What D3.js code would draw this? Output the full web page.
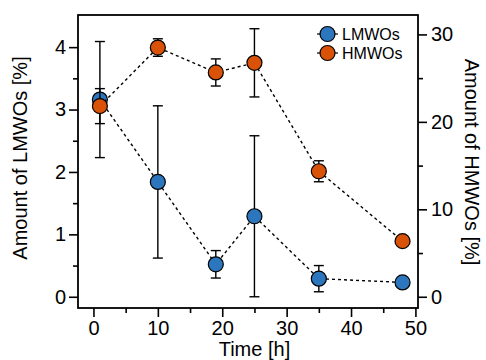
<!DOCTYPE html>
<html><head><meta charset="utf-8">
<script src="https://cdn.jsdelivr.net/npm/d3@7"></script>
<style>body{margin:0;background:#fff}svg{display:block;font-family:"Liberation Sans",Arial,sans-serif}</style>
</head><body>
<script>
const time = [1, 10, 19, 25, 35, 48];
const lmwo = [3.16, 1.84, 0.52, 1.29, 0.29, 0.23];
const lmwoErr = [0.93, 1.22, 0.22, 1.29, 0.21, 0];
const hmwo = [21.8, 28.5, 25.65, 26.75, 14.35, 6.36];
const hmwoErr = [2.0, 1.0, 1.55, 3.9, 1.2, 0];
const xTicks = [0, 10, 20, 30, 40, 50];
const yLeftTicks = [0, 1, 2, 3, 4];
const yRightTicks = [0, 10, 20, 30];
const seriesNames = ["LMWOs", "HMWOs"];
const colors = ["#2b76bd", "#d95208"];

const W = 486, H = 360;
const L = 78, R = 418, T = 15, B = 308;
const svg = d3.select("body").append("svg").attr("width", W).attr("height", H);

const x = d3.scaleLinear().domain([-2.4, 50.4]).range([L, R]);
const yL = d3.scaleLinear().domain([-0.18, 4.515]).range([B, T]);
const yR = d3.scaleLinear().domain([-1.285, 32.22]).range([B, T]);

function styleAxis(g) {
  g.selectAll("path.domain").remove();
  g.selectAll("line").attr("stroke", "#000").attr("stroke-width", 1.6);
  g.selectAll("text").attr("font-size", 20).attr("fill", "#000")
   .attr("font-family", '"Liberation Sans",Arial,sans-serif');
}

// minor ticks
svg.append("g").attr("transform", `translate(0,${B})`)
  .call(d3.axisBottom(x).tickValues([5,15,25,35,45]).tickSize(5).tickFormat(""))
  .call(styleAxis);
svg.append("g").attr("transform", `translate(${L},0)`)
  .call(d3.axisLeft(yL).tickValues([0.5,1.5,2.5,3.5]).tickSize(5).tickFormat(""))
  .call(styleAxis);
svg.append("g").attr("transform", `translate(${R},0)`)
  .call(d3.axisRight(yR).tickValues([5,15,25]).tickSize(5).tickFormat(""))
  .call(styleAxis);

// major ticks
svg.append("g").attr("transform", `translate(0,${B})`)
  .call(d3.axisBottom(x).tickValues(xTicks).tickSize(9).tickPadding(4).tickFormat(d3.format("d")))
  .call(styleAxis);
svg.append("g").attr("transform", `translate(${L},0)`)
  .call(d3.axisLeft(yL).tickValues(yLeftTicks).tickSize(9).tickPadding(3).tickFormat(d3.format("d")))
  .call(styleAxis);
svg.append("g").attr("transform", `translate(${R},0)`)
  .call(d3.axisRight(yR).tickValues(yRightTicks).tickSize(9).tickPadding(4).tickFormat(d3.format("d")))
  .call(styleAxis);

// frame
svg.append("rect").attr("x", L).attr("y", T).attr("width", R - L).attr("height", B - T)
  .attr("fill", "none").attr("stroke", "#000").attr("stroke-width", 1.8);

// titles
svg.append("text").attr("x", (x(0)+x(50))/2).attr("y", 356).attr("text-anchor", "middle")
  .attr("font-size", 20).text("Time [h]");
svg.append("text").attr("transform", `translate(27,158) rotate(-90)`).attr("text-anchor", "middle")
  .attr("font-size", 20).text("Amount of LMWOs [%]");
svg.append("text").attr("transform", `translate(465,162) rotate(90)`).attr("text-anchor", "middle")
  .attr("font-size", 20).text("Amount of HMWOs [%]");

const series = [
  {vals: lmwo, err: lmwoErr, y: yL, color: colors[0]},
  {vals: hmwo, err: hmwoErr, y: yR, color: colors[1]}
];

series.forEach(s => {
  const g = svg.append("g");
  const pts = time.map((t, i) => ({t, v: s.vals[i], e: s.err[i]}));
  pts.filter(d => d.e > 0).forEach(d => {
    const xc = x(d.t), y1 = s.y(d.v + d.e), y2 = s.y(d.v - d.e);
    g.append("line").attr("x1", xc).attr("x2", xc).attr("y1", y1).attr("y2", y2)
      .attr("stroke", "#000").attr("stroke-width", 1.4);
    [y1, y2].forEach(yy => g.append("line").attr("x1", xc - 5).attr("x2", xc + 5)
      .attr("y1", yy).attr("y2", yy).attr("stroke", "#000").attr("stroke-width", 1.4));
  });
  g.append("path").datum(pts)
    .attr("d", d3.line().x(d => x(d.t)).y(d => s.y(d.v)))
    .attr("fill", "none").attr("stroke", "#000").attr("stroke-width", 1.4)
    .attr("stroke-dasharray", "3,3");
  s.g = g; s.pts = pts;
});
series.forEach(s => {
  s.g.selectAll("circle").data(s.pts).join("circle")
    .attr("cx", d => x(d.t)).attr("cy", d => s.y(d.v)).attr("r", 7.5)
    .attr("fill", s.color).attr("stroke", "#000").attr("stroke-width", 1.2);
});

// legend
const lg = svg.append("g");
seriesNames.forEach((name, i) => {
  const yy = 34 + i * 19;
  lg.append("line").attr("x1", 317).attr("x2", 338).attr("y1", yy).attr("y2", yy)
    .attr("stroke", "#000").attr("stroke-width", 1.2);
  lg.append("circle").attr("cx", 327.5).attr("cy", yy).attr("r", 7.5)
    .attr("fill", colors[i]).attr("stroke", "#000").attr("stroke-width", 1.2);
  lg.append("text").attr("x", 342).attr("y", yy).attr("dy", "0.35em")
    .attr("font-size", 16).text(name);
});
</script>
</body></html>
